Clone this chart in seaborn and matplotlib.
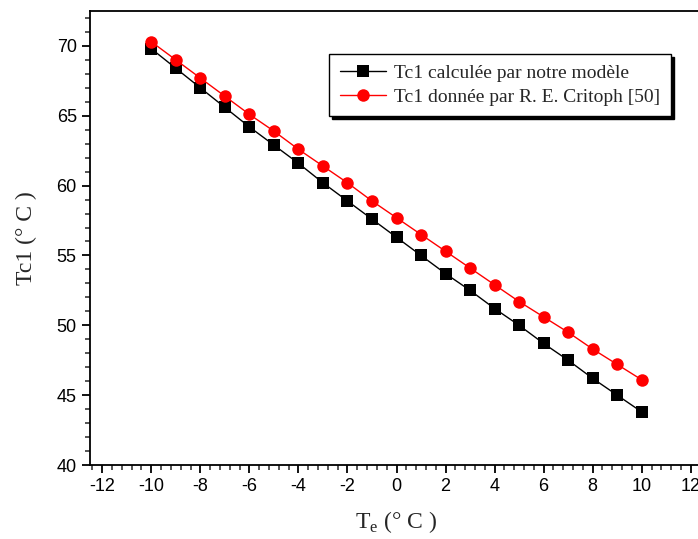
import numpy as np
import pandas as pd
import matplotlib
matplotlib.use("Agg")
import matplotlib.pyplot as plt
import seaborn as sns
from matplotlib.ticker import MultipleLocator

te = [-10, -9, -8, -7, -6, -5, -4, -3, -2, -1, 0, 1, 2, 3, 4, 5, 6, 7, 8, 9, 10]
tc1_model = [69.8, 68.4, 67.0, 65.6, 64.2, 62.9, 61.6, 60.2, 58.9, 57.6, 56.3,
             55.0, 53.7, 52.5, 51.2, 50.0, 48.7, 47.5, 46.2, 45.0, 43.8]
tc1_critoph = [70.3, 69.0, 67.7, 66.4, 65.1, 63.9, 62.6, 61.4, 60.2, 58.9, 57.7,
               56.5, 55.3, 54.1, 52.9, 51.7, 50.6, 49.5, 48.3, 47.2, 46.1]
label_model = "Tc1 calculée par notre modèle"
label_critoph = "Tc1 donnée par R. E. Critoph [50]"

sns.set_style("ticks")
plt.rcParams['font.family'] = ['Liberation Sans', 'DejaVu Sans']
plt.rcParams['axes.unicode_minus'] = False

fig = plt.figure(figsize=(6.98, 5.39), dpi=100)
ax = fig.add_axes([90/698, (539-465)/539, (703-90)/698, (465-11)/539])

df = pd.DataFrame({"Te": te, "model": tc1_model, "critoph": tc1_critoph})
sns.lineplot(data=df, x="Te", y="model", ax=ax, color="black", lw=1,
             marker="s", markersize=8, markeredgewidth=0, label=label_model)
sns.lineplot(data=df, x="Te", y="critoph", ax=ax, color="red", lw=1,
             marker="o", markersize=9, markeredgewidth=0, label=label_critoph)

ax.set_xlim(-12.5, 12.5)
ax.set_ylim(40, 72.5)
ax.xaxis.set_major_locator(MultipleLocator(2))
ax.xaxis.set_minor_locator(MultipleLocator(0.4))
ax.yaxis.set_major_locator(MultipleLocator(5))
ax.yaxis.set_minor_locator(MultipleLocator(1))
ax.tick_params(which="major", direction="out", length=6, width=1.3, labelsize=13, colors="black")
ax.tick_params(which="minor", direction="out", length=3.5, width=1.1)
for s in ax.spines.values():
    s.set_linewidth(1.3)
    s.set_color("black")

ax.set_xlabel("T$_{\\mathregular{e}}$ (° C )", fontfamily="Liberation Serif", fontsize=17, labelpad=10)
ax.set_ylabel("Tc1 (° C )", fontfamily="Liberation Serif", fontsize=17, labelpad=14)

leg = ax.legend(loc="upper left", bbox_to_anchor=((329-90)/613, 1 - (54-11)/454),
                borderaxespad=0,
                prop={"family": "Liberation Serif", "size": 14}, frameon=True,
                fancybox=False, shadow={"color": "black", "alpha": 1}, handlelength=2.4,
                handletextpad=0.4, borderpad=0.55, labelspacing=0.3)
leg.get_frame().set_edgecolor("black")
leg.get_frame().set_linewidth(1)

fig.savefig("out.png", dpi=100)
